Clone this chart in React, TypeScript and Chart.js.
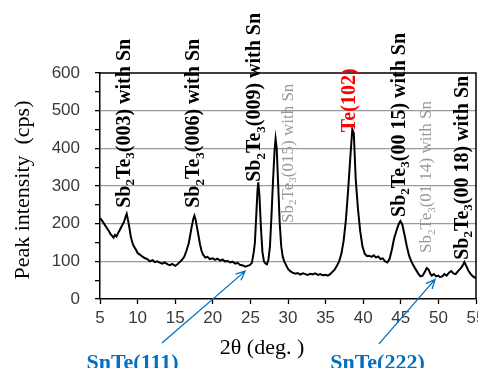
import React, { useEffect, useRef } from 'react';
import { Chart, registerables } from 'chart.js';

Chart.register(...registerables);

// 2θ (deg.) positions of the trace
const twoTheta = [
  5.0, 5.2, 5.4, 5.6, 5.8, 6.0, 6.2, 6.4, 6.6, 6.8, 7.0, 7.2, 7.4, 7.6, 7.8, 8.0, 8.2, 8.4, 8.55, 8.7,
  8.9, 9.1, 9.3, 9.5, 9.8, 10.0, 10.3, 10.6, 11.0, 11.3, 11.6, 12.0, 12.3, 12.6, 13.0, 13.3, 13.6, 14.0, 14.3, 14.6,
  15.0, 15.3, 15.6, 15.9, 16.2, 16.5, 16.8, 17.0, 17.2, 17.4, 17.55, 17.7, 17.9, 18.1, 18.3, 18.5, 18.7, 19.0, 19.3, 19.6,
  20.0, 20.3, 20.6, 21.0, 21.3, 21.6, 22.0, 22.3, 22.6, 23.0, 23.3, 23.6, 24.0, 24.3, 24.6, 24.9, 25.2, 25.45, 25.6, 25.8,
  25.95, 26.05, 26.2, 26.4, 26.6, 26.8, 27.0, 27.2, 27.4, 27.6, 27.8, 28.0, 28.2, 28.35, 28.5, 28.7, 28.9, 29.1, 29.3, 29.5,
  29.8, 30.0, 30.3, 30.6, 31.0, 31.3, 31.6, 32.0, 32.3, 32.6, 33.0, 33.3, 33.6, 34.0, 34.3, 34.6, 35.0, 35.3, 35.6, 35.9,
  36.2, 36.5, 36.8, 37.1, 37.4, 37.7, 38.0, 38.3, 38.55, 38.75, 39.0, 39.3, 39.6, 39.9, 40.2, 40.5, 40.8, 41.1, 41.4, 41.7,
  42.0, 42.3, 42.6, 42.9, 43.2, 43.5, 43.8, 44.1, 44.4, 44.7, 44.95, 45.2, 45.5, 45.8, 46.1, 46.4, 46.7, 47.0, 47.3, 47.6,
  47.9, 48.2, 48.45, 48.7, 48.9, 49.1, 49.4, 49.7, 50.0, 50.2, 50.5, 50.8, 51.1, 51.4, 51.7, 52.0, 52.3, 52.6, 52.9, 53.2,
  53.45, 53.7, 54.0, 54.3, 54.6, 55.0,
];

// Peak intensity (cps)
const intensity = [
  215, 210, 204, 198, 192, 186, 180, 172, 168, 163, 170, 166, 175, 182, 190, 198, 205, 218, 226, 212,
  190, 165, 150, 140, 130, 122, 118, 113, 108, 106, 100, 103, 98, 100, 96, 94, 97, 92, 90, 93,
  88, 92, 98, 104, 112, 128, 148, 170, 192, 212, 221, 212, 190, 168, 145, 128, 118, 110, 112, 106,
  108, 104, 107, 102, 105, 100, 101, 97, 99, 94, 96, 91, 89, 86, 88, 90, 96, 125, 150, 230,
  290, 310, 275, 190, 125, 100, 94, 92, 105, 140, 220, 310, 390, 425, 400, 300, 200, 140, 112, 100,
  88, 80, 74, 70, 67, 69, 65, 68, 66, 64, 67, 65, 68, 64, 66, 63, 64, 62, 66, 72,
  78, 88, 100, 120, 155, 210, 290, 380, 450, 440, 320, 240, 180, 140, 120, 114, 115, 112, 116, 110,
  113, 106, 108, 100, 97, 106, 130, 160, 180, 198, 207, 198, 170, 140, 115, 100, 88, 78, 68, 60,
  62, 72, 82, 78, 68, 62, 66, 60, 62, 58, 60, 66, 62, 70, 74, 68, 66, 74, 80, 88,
  98, 88, 75, 66, 60, 55,
];

// Peak annotations (rotated text); "_n" marks a subscript digit
const peakLabelTexts = [
  'Sb_2Te_3(003) with Sn',
  'Sb_2Te_3(006) with Sn',
  'Sb_2Te_3(009) with Sn',
  'Sb_2Te_3(015) with Sn',
  'Te(102)',
  'Sb_2Te_3(00 15) with Sn',
  'Sb_2Te_3(01 14) with Sn',
  'Sb_2Te_3(00 18) with Sn',
];
const peakLabelX = [8.32, 17.57, 25.68, 30.1, 38.25, 44.9, 48.48, 53.27];
const peakLabelY = [242, 242, 311, 202, 443, 218, 122, 104];
const peakLabelKind = ['main', 'main', 'main', 'minor', 'te', 'main', 'minor', 'main'];

// SnTe annotations with arrows
const snteLabels = ['SnTe(111)', 'SnTe(222)'];
const snteLabelX = [9.32, 41.9];
const snteLabelY = [-187, -187];
const arrowTailX = [13.24, 42.1];
const arrowTailY = [-117, -119];
const arrowTipX = [24.3, 49.55];
const arrowTipY = [74, 52];

const SERIF = '"Liberation Serif", "Times New Roman", serif';
const SANS = '"Liberation Sans", Arial, sans-serif';
const BLUE = '#0070C0';

function drawVerticalRich(ctx: CanvasRenderingContext2D, text: string, bx: number, by: number, size: number, weight: string, color: string) {
  const parts = text.split(/_(\d)/);
  ctx.save();
  ctx.translate(bx, by);
  ctx.rotate(-Math.PI / 2);
  ctx.fillStyle = color;
  ctx.textAlign = 'left';
  ctx.textBaseline = 'alphabetic';
  let pos = 0;
  parts.forEach((p, i) => {
    if (!p) return;
    const sub = i % 2 === 1;
    const fs = sub ? size * 0.65 : size;
    ctx.font = `${weight} ${fs}px ${SERIF}`;
    ctx.fillText(p, pos, sub ? size * 0.22 : 0);
    pos += ctx.measureText(p).width;
  });
  ctx.restore();
}

const annotPlugin = {
  id: 'annot',
  afterDraw(chart: any) {
    const { ctx, chartArea: a, scales } = chart;
    const xs = scales.x;
    const ys = scales.y;
    ctx.save();
    // top & right frame
    ctx.strokeStyle = '#000';
    ctx.lineWidth = 1.5;
    ctx.beginPath();
    ctx.moveTo(a.left, a.top);
    ctx.lineTo(a.right, a.top);
    ctx.lineTo(a.right, a.bottom);
    ctx.stroke();

    // peak labels
    peakLabelTexts.forEach((t, i) => {
      const kind = peakLabelKind[i];
      const size = kind === 'minor' ? 17 : 20;
      const weight = kind === 'minor' ? 'normal' : 'bold';
      const color = kind === 'minor' ? '#999999' : kind === 'te' ? '#ff0000' : '#000000';
      const cx = xs.getPixelForValue(peakLabelX[i]);
      const by = ys.getPixelForValue(peakLabelY[i]);
      drawVerticalRich(ctx, t, cx + 0.235 * size, by, size, weight, color);
    });

    // arrows
    ctx.strokeStyle = BLUE;
    ctx.lineWidth = 1.3;
    arrowTipX.forEach((_, i) => {
      const x1 = xs.getPixelForValue(arrowTailX[i]);
      const y1 = ys.getPixelForValue(arrowTailY[i]);
      const x2 = xs.getPixelForValue(arrowTipX[i]);
      const y2 = ys.getPixelForValue(arrowTipY[i]);
      const ang = Math.atan2(y2 - y1, x2 - x1);
      const L = 10;
      const w = 0.42;
      ctx.beginPath();
      ctx.moveTo(x1, y1);
      ctx.lineTo(x2, y2);
      ctx.moveTo(x2 - L * Math.cos(ang - w), y2 - L * Math.sin(ang - w));
      ctx.lineTo(x2, y2);
      ctx.lineTo(x2 - L * Math.cos(ang + w), y2 - L * Math.sin(ang + w));
      ctx.stroke();
    });

    // SnTe labels
    ctx.fillStyle = BLUE;
    ctx.font = `bold 22px ${SERIF}`;
    ctx.textAlign = 'center';
    ctx.textBaseline = 'alphabetic';
    snteLabels.forEach((t, i) => {
      ctx.fillText(t, xs.getPixelForValue(snteLabelX[i]), ys.getPixelForValue(snteLabelY[i]));
    });

    // axis titles
    ctx.fillStyle = '#000';
    ctx.font = `22px ${SERIF}`;
    ctx.textAlign = 'center';
    ctx.textBaseline = 'middle';
    ctx.fillText('2θ (deg. )', 262, 348);
    ctx.save();
    ctx.translate(23, 190);
    ctx.rotate(-Math.PI / 2);
    ctx.fillText('Peak intensity  (cps)', 0, 0);
    ctx.restore();

    ctx.restore();
  },
};

export default function App() {
  const ref = useRef<HTMLCanvasElement | null>(null);
  useEffect(() => {
    if (!ref.current) return;
    const data = twoTheta.map((t, i) => ({ x: t, y: intensity[i] }));
    const chart = new Chart(ref.current, {
      type: 'line',
      data: {
        datasets: [
          {
            data,
            borderColor: '#000',
            borderWidth: 2,
            pointRadius: 0,
            tension: 0,
            fill: false,
          },
        ],
      },
      options: {
        responsive: false,
        animation: false,
        layout: { padding: { top: 73, right: 2, left: 0, bottom: 0 } },
        plugins: { legend: { display: false }, tooltip: { enabled: false }, title: { display: false } },
        scales: {
          x: {
            type: 'linear',
            min: 5,
            max: 55,
            afterFit: (s: any) => {
              s.height = 69;
              s.paddingLeft = 0;
              s.paddingRight = 0;
            },
            ticks: {
              stepSize: 5,
              autoSkip: false,
              maxRotation: 0,
              padding: 4,
              color: '#3a3a3a',
              font: { family: SANS, size: 17 },
            },
            grid: {
              drawOnChartArea: false,
              tickLength: 5,
              tickColor: '#000',
              tickWidth: 1.3,
            },
            border: { color: '#000', width: 1.5 },
          },
          y: {
            min: 0,
            max: 600,
            afterFit: (s: any) => {
              s.width = 100;
              s.paddingTop = 0;
              s.paddingBottom = 0;
            },
            ticks: {
              stepSize: 50,
              autoSkip: false,
              padding: 15,
              color: '#3a3a3a',
              font: { family: SANS, size: 17 },
              callback: (v: any) => (Number(v) % 100 === 0 ? String(v) : ''),
            },
            grid: {
              tickLength: 5,
              tickColor: '#000',
              tickWidth: 1.3,
              lineWidth: 1.3,
              color: (c: any) => {
                const v = c.tick ? c.tick.value : 0;
                return v % 100 === 0 && v !== 0 && v !== 600 ? '#9a9a9a' : 'rgba(0,0,0,0)';
              },
            },
            border: { color: '#000', width: 1.5 },
          },
        },
      },
      plugins: [annotPlugin],
    } as any);
    return () => chart.destroy();
  }, []);
  return (
    <div style={{ position: 'absolute', left: 0, top: 0, width: 478, height: 368, background: '#fff' }}>
      <canvas ref={ref} width={478} height={368} style={{ display: 'block' }} />
    </div>
  );
}
